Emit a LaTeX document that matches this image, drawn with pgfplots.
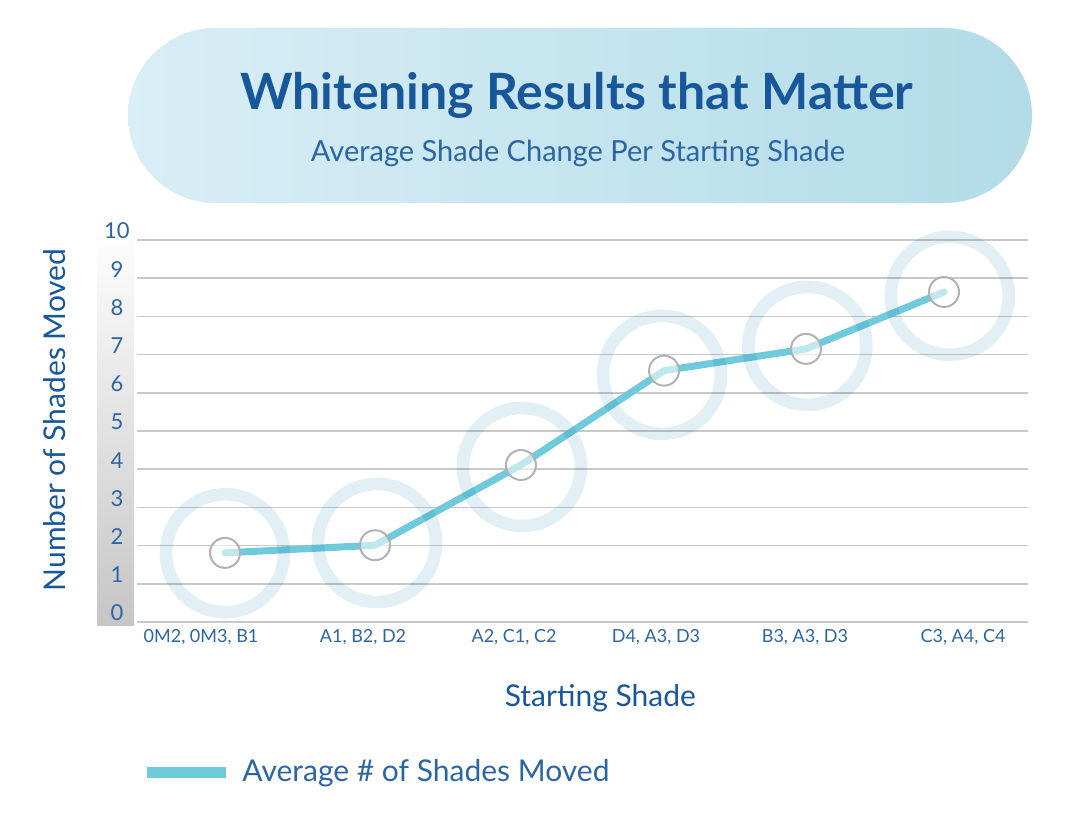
\documentclass[border=0pt]{standalone}
\usepackage{pgfplots}
\pgfplotsset{compat=1.18}
\usepackage{fontspec}
\setmainfont{Lato}
\definecolor{tdark}{HTML}{17579A}
\definecolor{tblue}{HTML}{2C65A3}
\definecolor{lcyan}{HTML}{6FCADB}
\definecolor{ringc}{HTML}{E2F0F6}
\definecolor{pillL}{HTML}{D9EEF6}
\definecolor{pillR}{HTML}{B2DCE8}
\definecolor{gridc}{HTML}{C8C8C8}
\pgfplotstableread{
x y
0 1.81
1.043 2.01
2.058 4.11
3.053 6.58
4.040 7.15
5.0 8.64
}\linedata
\pgfplotstableread{
x y
0 1.80
1.057 2.07
2.065 4.06
3.039 6.47
4.05 7.23
5.04 8.54
}\ringdata
\begin{document}
\begin{tikzpicture}
\useasboundingbox (0,0) rectangle (540pt,-411.5pt);
\shade[left color=pillL, right color=pillR, rounded corners=43.7pt] (64pt,-14pt) rectangle (516pt,-101.5pt);
\node[anchor=base, text=tdark, font=\fontsize{25}{30}\selectfont\bfseries, inner sep=0pt] at (288.5pt,-55pt) {Whitening Results that Matter};
\node[anchor=base, text=tblue, font=\fontsize{14.5}{17}\selectfont, inner sep=0pt] at (289pt,-81pt) {Average Shade Change Per Starting Shade};
\shade[top color=white, bottom color=gray!45] (48.5pt,-112pt) rectangle (67pt,-312.5pt);
\begin{axis}[
  at={(68.5pt,-311pt)}, anchor=south west,
  scale only axis, width=445.5pt, height=191pt,
  xmin=-0.612, xmax=5.584, ymin=0, ymax=10,
  clip=false,
  axis line style={draw=none},
  tick style={draw=none},
  ymajorgrids, grid style={gridc, line width=0.75pt},
  ytick={0,1,...,10},
  yticklabel style={anchor=center, xshift=-10pt, yshift=4.5pt, text=tblue, font=\fontsize{11}{13}\selectfont},
  xtick={-0.167,0.96,2.01,2.997,4.033,5.132},
  xticklabels={{0M2, 0M3, B1},{A1, B2, D2},{A2, C1, C2},{D4, A3, D3},{B3, A3, D3},{C3, A4, C4}},
  xticklabel style={text=tblue, font=\fontsize{9}{11}\selectfont},
  /pgf/number format/assume math mode=true,
  xlabel={Starting Shade},
  xlabel style={at={(axis description cs:0.52,-0.2)}, anchor=center, text=tdark, font=\fontsize{15}{18}\selectfont},
  ylabel={Number of Shades Moved},
  ylabel style={at={(axis description cs:-0.092,0.529)}, anchor=center, rotate=0, text=tdark, font=\fontsize{15}{18}\selectfont},
  legend style={at={(axis description cs:0.0045,-0.393)}, anchor=west, draw=none, fill=none, inner sep=0pt,
    nodes={inner sep=0pt, text=tblue, font=\fontsize{15}{18}\selectfont},
    /tikz/every odd column/.append style={column sep=5.5pt}},
  legend cell align=left,
  legend image code/.code={\draw[line width=5.5pt, lcyan, line cap=butt] (0pt,0pt) -- (39.5pt,0pt);},
]
\addplot[lcyan, line width=3.5pt, line join=round, line cap=round] table[x=x,y=y] {\linedata};
\addlegendentry{Average \# of Shades Moved}
\addplot[only marks, mark=o, mark size=29.5pt, blend mode=multiply, mark options={draw=ringc, line width=6.3pt}, forget plot] table[x=x,y=y] {\ringdata};
\addplot[only marks, mark=*, mark size=7.5pt, mark options={draw=gray!60, fill=white, fill opacity=0.55, line width=1pt}, forget plot] table[x=x,y=y] {\linedata};
\end{axis}
\end{tikzpicture}
\end{document}
